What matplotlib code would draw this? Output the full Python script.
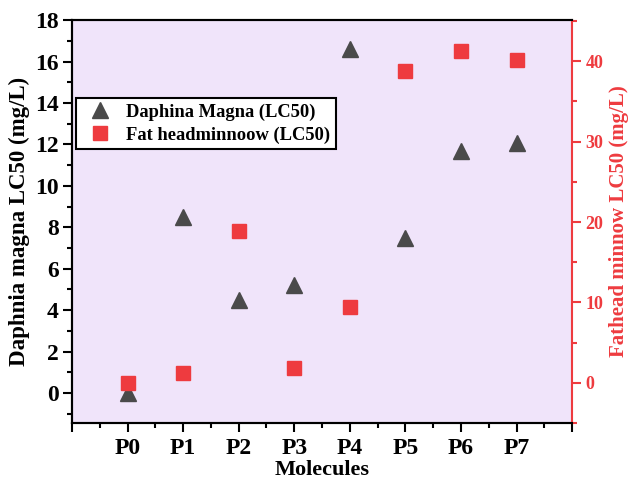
import numpy as np
import matplotlib.pyplot as plt
from matplotlib.ticker import MultipleLocator, FixedLocator, FixedFormatter

plt.rcParams['font.family'] = ['Liberation Serif', 'DejaVu Serif']
plt.rcParams['font.weight'] = 'bold'

# LC50 values for each molecule
molecules = ['P0', 'P1', 'P2', 'P3', 'P4', 'P5', 'P6', 'P7']
daphnia_lc50 = [0.0, 8.5, 4.5, 5.2, 16.6, 7.5, 11.7, 12.05]
fathead_lc50 = [0.0, 1.2, 18.9, 1.9, 9.4, 38.8, 41.2, 40.1]

red = '#ee3b3f'
grey = '#4a4a4a'

fig = plt.figure(figsize=(6.29, 4.83), dpi=100)
ax = fig.add_axes([0.1145, 0.124, 0.795, 0.8344])
ax.set_facecolor('#f0e4fa')
ax2 = ax.twinx()

x = np.arange(len(molecules))
h1, = ax.plot(x, daphnia_lc50, '^', color=grey, markersize=12, linestyle='none',
              label='Daphina Magna (LC50)')
h2, = ax2.plot(x, fathead_lc50, 's', color=red, markersize=10.5, linestyle='none',
               label='Fat headminnoow (LC50)')

ax.set_xlim(-1, 8)
ax.set_ylim(-1.45, 18)
ax2.set_ylim(-5.0, 45.1)

# x axis: ticks at every position, labels only for molecules
ax.xaxis.set_major_locator(FixedLocator(np.arange(-1, 9)))
ax.xaxis.set_major_formatter(FixedFormatter([''] + molecules + ['']))
ax.xaxis.set_minor_locator(MultipleLocator(0.5))

ax.yaxis.set_major_locator(MultipleLocator(2))
ax.yaxis.set_minor_locator(MultipleLocator(1))
ax2.set_yticks([0, 10, 20, 30, 40])
ax2.yaxis.set_minor_locator(MultipleLocator(5))

ax.tick_params(axis='both', which='major', direction='out', length=6.5, width=1.5,
               labelsize=17, pad=3)
ax.tick_params(axis='x', which='major', pad=4)
ax.tick_params(axis='both', which='minor', direction='out', length=3.5, width=1.5)
ax2.tick_params(axis='y', which='major', direction='out', length=6.5, width=1.5,
                labelsize=13, colors=red, pad=3)
ax2.tick_params(axis='y', which='minor', direction='out', length=3.5, width=1.5,
                colors=red)

for s in ['left', 'bottom', 'top']:
    ax.spines[s].set_linewidth(1.5)
    ax2.spines[s].set_linewidth(1.5)
ax2.spines['right'].set_color(red)
ax2.spines['right'].set_linewidth(1.5)
ax.spines['right'].set_visible(False)

ax.set_xlabel('Molecules', fontsize=16, fontweight='bold', labelpad=1)
ax.set_ylabel('Daphnia magna LC50 (mg/L)', fontsize=16.5, fontweight='bold', labelpad=4)
ax2.set_ylabel('Fathead minnow LC50 (mg/L)', fontsize=15, fontweight='bold',
               color=red, labelpad=4)

leg = ax2.legend([h1, h2], [h1.get_label(), h2.get_label()], loc='upper left',
                 bbox_to_anchor=(0.008, 0.807), borderaxespad=0, fontsize=13.3,
                 frameon=True, fancybox=False, edgecolor='black', framealpha=1,
                 handletextpad=0.4, borderpad=0.3, labelspacing=0.3)
leg.get_frame().set_linewidth(1.5)

fig.savefig('out.png', dpi=100)
